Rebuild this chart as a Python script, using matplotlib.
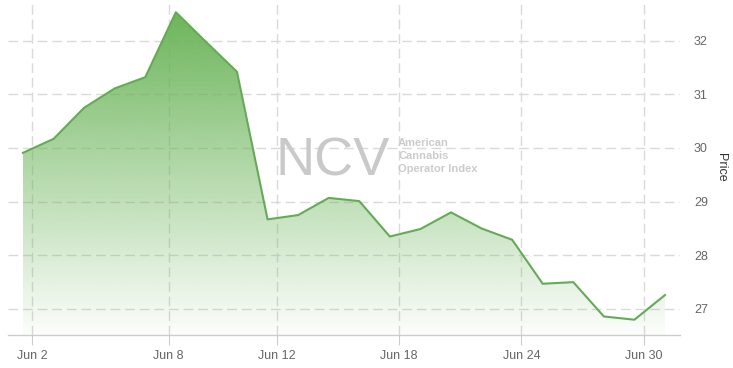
import numpy as np
import matplotlib
matplotlib.use("Agg")
import matplotlib.pyplot as plt
from matplotlib.colors import to_rgb

# June 2020 trading days (day of month) and index price
trade_days = [1, 2, 3, 4, 5, 8, 9, 10, 11, 12, 15, 16, 17, 18, 19,
              22, 23, 24, 25, 26, 29, 30]
price = [29.91, 30.17, 30.75, 31.11, 31.32, 32.53, 31.97, 31.42, 28.67,
         28.75, 29.07, 29.01, 28.35, 28.49, 28.80, 28.50, 28.29, 27.47,
         27.50, 26.86, 26.80, 27.26]

tick_days = [2, 8, 12, 18, 24, 30]
tick_labels = ["Jun 2", "Jun 8", "Jun 12", "Jun 18", "Jun 24", "Jun 30"]
y_ticks = [27, 28, 29, 30, 31, 32]

W, H = 733, 368
line_col = "#68a85a"
fill_col = "#6cb55a"
grid_col = "#dadada"
text_col = "#666666"

plt.rcParams["font.family"] = ["Liberation Sans", "DejaVu Sans"]

fig = plt.figure(figsize=(W / 100, H / 100), dpi=100)
ax = fig.add_axes([8 / W, 1 - 335 / H, (680 - 8) / W, 335 / H])

x = np.arange(len(price))
y = np.array(price)

# ordinal axis: ticks sit a bit before the labelled day
tick_pos = np.interp(np.array(tick_days) - 0.7, trade_days, x)

y0, y1 = 26.515, 32.758

# gradient fill under the line
poly = ax.fill_between(x, y, y0, color="none", lw=0)
r, g, b = to_rgb(fill_col)
n = 256
grad = np.zeros((n, 1, 4))
grad[:, :, 0] = r
grad[:, :, 1] = g
grad[:, :, 2] = b
grad[:, :, 3] = np.linspace(0.02, 1.0, n)[:, None]
im = ax.imshow(grad, extent=[x[0], x[-1], y0, max(price)],
               origin="lower", aspect="auto", zorder=2, interpolation="bilinear")
im.set_clip_path(poly.get_paths()[0], transform=ax.transData)
ax.set_xlim(-0.49, 21.49)
ax.set_ylim(y0, y1)

ax.plot(x, y, color=line_col, lw=1.5, zorder=3, solid_joinstyle="round")

# grid
ax.set_xticks(tick_pos)
ax.set_xticklabels(tick_labels)
ax.set_yticks(y_ticks)
ax.grid(True, color=grid_col, lw=1, linestyle=(0, (7, 3.5)), zorder=1)
ax.set_axisbelow(True)

for side in ["top", "left", "right"]:
    ax.spines[side].set_visible(False)
ax.spines["bottom"].set_color("#cccccc")
ax.spines["bottom"].set_linewidth(1)

ax.tick_params(axis="x", length=7, color="#cccccc", labelsize=9,
               labelcolor=text_col, pad=4)
ax.yaxis.tick_right()
ax.tick_params(axis="y", length=0, labelsize=9, labelcolor=text_col, pad=10)
ax.yaxis.set_label_position("right")
ax.set_ylabel("Price", rotation=270, fontsize=9, color="#333333", labelpad=14)

# watermark
fig.text(276 / W, 1 - 175 / H, "NCV", fontsize=39, color="#c9c9c9",
         ha="left", va="baseline", zorder=0)
fig.add_artist(plt.Line2D([395 / W, 395 / W], [1 - 128 / H, 1 - 180 / H],
                          color="#d5d5d5", lw=1, zorder=0))
for i, t in enumerate(["American", "Cannabis", "Operator Index"]):
    fig.text(398 / W, 1 - (146 + 13 * i) / H, t, fontsize=8, fontweight="bold",
             color="#cccccc", ha="left", va="baseline", zorder=0)

fig.savefig("out.png", dpi=100, facecolor="white")
